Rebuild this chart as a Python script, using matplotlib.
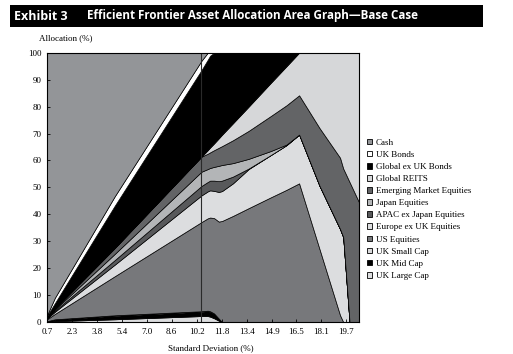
import matplotlib
matplotlib.use('Agg')
import matplotlib.pyplot as plt
from matplotlib.patches import Rectangle, Patch
import numpy as np

# frontier points (standard deviation, %)
std_dev = [0.7, 1.2, 5.0, 10.5, 10.9, 11.05, 11.3, 11.6, 11.8, 12.5, 13.5, 14.9, 15.9, 16.7, 18.0, 19.3, 19.5, 19.9, 20.5]

# allocations (%) per asset class, bottom of the stack first
uk_large = [0, 0.3, 1.0, 2.2, 2.2, 2.0, 1.4, 0.5, 0, 0, 0, 0, 0, 0, 0, 0, 0, 0, 0]
uk_mid = [0.2, 0.6, 1.3, 1.6, 1.8, 1.8, 1.6, 0.7, 0, 0, 0, 0, 0, 0, 0, 0, 0, 0, 0]
uk_small = [0.1, 0.1, 0.2, 0.2, 0.2, 0.2, 0.2, 0.1, 0, 0, 0, 0, 0, 0, 0, 0, 0, 0, 0]
us_eq = [0.7, 2.0, 14.5, 33.1, 34.3, 34.8, 35.4, 36.0, 37.5, 39.4, 42.3, 46.3, 49.1, 51.5, 27.0, 2.5, 0, 0, 0]
europe_eq = [0.3, 0.8, 4.3, 9.9, 10.0, 10.1, 10.1, 11.0, 11.1, 12.1, 14.5, 15.7, 16.6, 18.1, 23.5, 32.0, 31.5, 0, 0]
apac_eq = [0.1, 0.4, 1.7, 3.5, 3.5, 3.6, 3.8, 4.0, 3.9, 2.5, 0.2, 0, 0, 0, 0, 0, 0, 0, 0]
japan_eq = [0.1, 0.4, 2.3, 5.3, 4.8, 4.7, 5.1, 5.7, 5.8, 5.0, 3.6, 1.5, 0.2, 0, 0, 0, 0, 0, 0]
em_eq = [0.3, 0.4, 2.2, 5.6, 5.7, 5.8, 6.2, 6.7, 7.0, 8.5, 10.4, 13.0, 14.6, 14.6, 21.5, 26.5, 25.5, 52.0, 44.5]
reits = [0, 0, 0, 0, 1.3, 1.8, 2.5, 3.5, 4.2, 6.3, 9.0, 12.3, 14.5, 15.8, 28.0, 39.0, 43.0, 48.0, 55.5]
global_bonds = [0.4, 2.0, 15.7, 32.1, 33.6, 34.1, 33.7, 31.8, 30.5, 26.2, 20.0, 11.2, 5.0, 0, 0, 0, 0, 0, 0]
uk_bonds = [0.3, 2.0, 3.5, 3.5, 2.6, 1.1, 0, 0, 0, 0, 0, 0, 0, 0, 0, 0, 0, 0, 0]
cash = [97.5, 91.0, 53.3, 3.0, 0, 0, 0, 0, 0, 0, 0, 0, 0, 0, 0, 0, 0, 0, 0]

series_names = ['UK Large Cap', 'UK Mid Cap', 'UK Small Cap', 'US Equities', 'Europe ex UK Equities',
                'APAC ex Japan Equities', 'Japan Equities', 'Emerging Market Equities', 'Global REITS',
                'Global ex UK Bonds', 'UK Bonds', 'Cash']
series_colors = ['#dcdddf', '#000000', '#d9d9db', '#77787b', '#dcdddf', '#58595b',
                 '#b3b5b7', '#636466', '#d6d7d9', '#000000', '#ffffff', '#939598']

x_labels = ['0.7', '2.3', '3.8', '5.4', '7.0', '8.6', '10.2', '11.8', '13.4', '14.9', '16.5', '18.1', '19.7']
y_ticks = [0, 10, 20, 30, 40, 50, 60, 70, 80, 90, 100]
marker_std = 10.5

serif = ['Liberation Serif', 'DejaVu Serif']

fig = plt.figure(figsize=(5.13, 3.54), dpi=100)
ax = fig.add_axes([0.0916, 0.0904, 0.6082, 0.7606])

ax.stackplot(std_dev, uk_large, uk_mid, uk_small, us_eq, europe_eq, apac_eq, japan_eq,
             em_eq, reits, global_bonds, uk_bonds, cash,
             colors=series_colors, edgecolor='black', linewidth=0.5)
ax.axvline(marker_std, color='#2a2a2a', lw=0.8)

ax.set_xlim(0.7, 20.5)
ax.set_ylim(0, 100)
ax.set_xticks(np.linspace(0.7, 19.7, len(x_labels)))
ax.set_xticklabels(x_labels, fontfamily=serif, fontsize=6.5)
ax.set_yticks(y_ticks)
ax.set_yticklabels([str(v) for v in y_ticks], fontfamily=serif, fontsize=6.5)
ax.tick_params(direction='in', length=2.5, width=0.6, pad=4)
for s in ax.spines.values():
    s.set_linewidth(0.8)

fig.text(211 / 513, 1 - 348 / 354, 'Standard Deviation (%)', ha='center', va='center',
         fontfamily=serif, fontsize=6.5)
fig.text(39 / 513, 1 - 38 / 354, 'Allocation (%)', ha='left', va='center',
         fontfamily=serif, fontsize=6.5)

# title bar
fig.patches.append(Rectangle((10 / 513, 1 - 27 / 354), 473 / 513, 22 / 354,
                             transform=fig.transFigure, facecolor='black', edgecolor='none'))
fig.text(14 / 513, 1 - 16 / 354, 'Exhibit 3', color='white', fontweight='bold',
         fontfamily='Open Sans', fontsize=9, va='center', ha='left')
fig.text(87 / 513, 1 - 16 / 354, 'Efficient Frontier Asset Allocation Area Graph\u2014Base Case',
         color='white', fontweight='bold', fontfamily='Open Sans', fontsize=8.4, va='center', ha='left')

handles = [Patch(facecolor=c, edgecolor='black', linewidth=0.6, label=n)
           for n, c in zip(series_names, series_colors)][::-1]
fig.legend(handles=handles, loc='upper left', bbox_to_anchor=(363 / 513, 1 - 135 / 354),
           frameon=False, prop={'family': serif, 'size': 6.5}, handlelength=0.6,
           handleheight=0.6, handletextpad=0.4, labelspacing=0.45, borderaxespad=0)

fig.savefig('out.png', dpi=100)
